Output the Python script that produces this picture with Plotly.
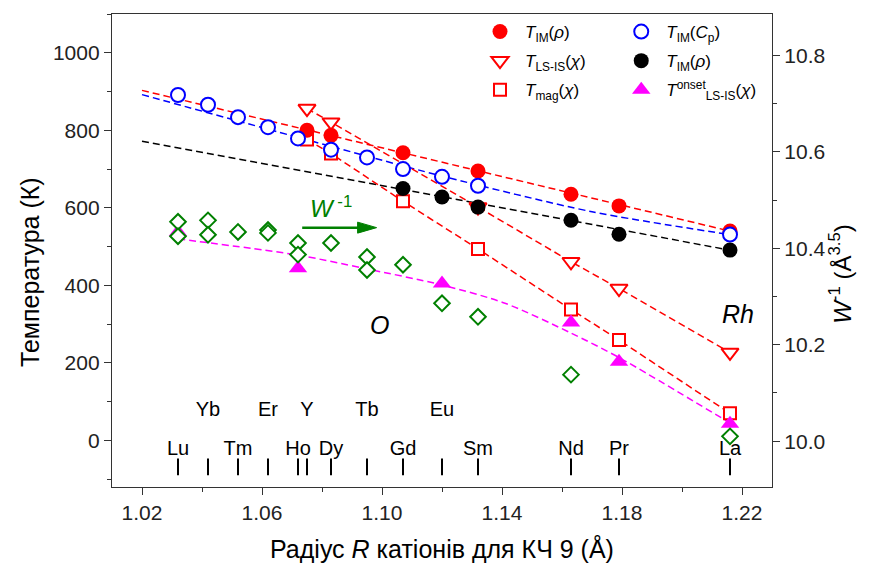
import plotly.graph_objects as go

# Ionic radii for coordination number 9 (Å)
elements = ["Lu", "Yb", "Tm", "Er", "Ho", "Y", "Dy", "Tb", "Gd", "Eu", "Sm", "Nd", "Pr", "La"]
radii = [1.032, 1.042, 1.052, 1.062, 1.072, 1.075, 1.083, 1.095, 1.107, 1.120, 1.132, 1.163, 1.179, 1.216]
rad = dict(zip(elements, radii))

# Element label rows
upper_row = ["Yb", "Er", "Y", "Tb", "Eu"]
lower_row = ["Lu", "Tm", "Ho", "Dy", "Gd", "Sm", "Nd", "Pr", "La"]

# T_IM(rho), red filled
tim_rho_el = ["Y", "Dy", "Gd", "Sm", "Nd", "Pr", "La"]
tim_rho = [800, 787, 742, 695, 635, 605, 540]

# T_IM(Cp), blue open
tim_cp_el = ["Lu", "Yb", "Tm", "Er", "Ho", "Dy", "Tb", "Gd", "Eu", "Sm", "La"]
tim_cp = [891, 866, 834, 808, 779, 750, 730, 700, 680, 657, 531]

# T_LS-IS(chi), red open down-triangles
tlsis_el = ["Y", "Dy", "Sm", "Nd", "Pr", "La"]
tlsis = [856, 821, 602, 461, 392, 227]

# T_IM(rho), black filled
tim_rho_b_el = ["Gd", "Eu", "Sm", "Nd", "Pr", "La"]
tim_rho_b = [650, 628, 602, 568, 532, 491]

# T_mag(chi), red open squares
tmag_el = ["Y", "Dy", "Gd", "Sm", "Nd", "Pr", "La"]
tmag = [776, 740, 617, 494, 338, 259, 70]

# T_onset LS-IS(chi), magenta up-triangles
tons_el = ["Lu", "Ho", "Eu", "Nd", "Pr", "La"]
tons = [538, 444, 405, 304, 203, 43]

# W^-1 (Å^3.5), green diamonds, right axis
winv_el = ["Lu", "Lu", "Yb", "Yb", "Tm", "Er", "Er", "Ho", "Ho", "Dy", "Tb", "Tb", "Gd", "Eu", "Sm", "Nd", "La"]
winv = [10.455, 10.425, 10.458, 10.428, 10.434, 10.438, 10.432, 10.411, 10.387,
        10.411, 10.382, 10.355, 10.366, 10.286, 10.258, 10.138, 10.010]

# Guide-line nodes
fit_red_r = [1.02, 1.216]
fit_red_t = [903, 540]
fit_blue_r = [1.02, 1.07, 1.12, 1.17, 1.216]
fit_blue_t = [892, 786, 682, 590, 531]
fit_black_r = [1.02, 1.216]
fit_black_t = [772, 491]
fit_mag_r = [1.032, 1.072, 1.094, 1.12, 1.141, 1.163, 1.179, 1.216]
fit_mag_t = [520, 478, 444, 401, 354, 277, 214, 45]

FONT = "Liberation Sans, Arial, sans-serif"
DASH = "7px,4px"
RED, BLUE, MAG, GREEN = "#ff0000", "#0000ff", "#ff00ff", "#008000"
AX = "#333333"


def xs(els):
    return [rad[e] for e in els]


fig = go.Figure()


def guide(x, y, color, shape="linear"):
    fig.add_trace(go.Scatter(x=x, y=y, mode="lines", showlegend=False, hoverinfo="skip",
                             line=dict(color=color, width=1.5, dash=DASH, shape=shape, smoothing=0.8)))


guide(fit_red_r, fit_red_t, RED)
guide(fit_blue_r, fit_blue_t, BLUE, "spline")
guide(fit_black_r, fit_black_t, "black")
guide(xs(tlsis_el), tlsis, RED)
guide(xs(tmag_el), tmag, RED)
guide(fit_mag_r, fit_mag_t, MAG, "spline")

# Element position markers and names
fig.add_trace(go.Scatter(x=radii, y=[-68] * len(radii), mode="markers", showlegend=False, hoverinfo="skip",
                         marker=dict(symbol="line-ns-open", size=12, color="black",
                                     line=dict(color="black", width=2))))
fig.add_trace(go.Scatter(x=xs(upper_row), y=[77] * len(upper_row), text=upper_row, mode="text",
                         showlegend=False, hoverinfo="skip",
                         textfont=dict(family=FONT, size=20, color="black")))
fig.add_trace(go.Scatter(x=xs(lower_row), y=[-24] * len(lower_row), text=lower_row, mode="text",
                         showlegend=False, hoverinfo="skip",
                         textfont=dict(family=FONT, size=20, color="black")))

# Data series
fig.add_trace(go.Scatter(x=xs(tmag_el), y=tmag, mode="markers", legend="legend", legendrank=3,
                         legendgroup="mag", name="<i>T</i><sub>mag</sub>(<i>χ</i>)",
                         marker=dict(symbol="square", size=12, color="white", line=dict(color=RED, width=2))))
fig.add_trace(go.Scatter(x=xs(tlsis_el), y=tlsis, mode="markers", legend="legend", legendrank=2,
                         legendgroup="lsis", name="<i>T</i><sub>LS-IS</sub>(<i>χ</i>)",
                         marker=dict(symbol="triangle-down", size=15, color="white", line=dict(color=RED, width=2))))
fig.add_trace(go.Scatter(x=xs(tons_el), y=tons, mode="markers", legend="legend2", legendrank=3,
                         legendgroup="ons", name="<i>T</i><sup>onset</sup><sub>LS-IS</sub>(<i>χ</i>)",
                         marker=dict(symbol="triangle-up", size=16, color=MAG, line=dict(width=0))))
fig.add_trace(go.Scatter(x=xs(tim_rho_el), y=tim_rho, mode="markers", legend="legend", legendrank=1,
                         legendgroup="rho", name="<i>T</i><sub>IM</sub>(<i>ρ</i>)",
                         marker=dict(symbol="circle", size=15, color=RED, line=dict(width=0))))
fig.add_trace(go.Scatter(x=xs(tim_cp_el), y=tim_cp, mode="markers", legend="legend2", legendrank=1,
                         legendgroup="cp", name="<i>T</i><sub>IM</sub>(<i>C</i><sub>p</sub>)",
                         marker=dict(symbol="circle", size=14, color="white", line=dict(color=BLUE, width=2))))
fig.add_trace(go.Scatter(x=xs(tim_rho_b_el), y=tim_rho_b, mode="markers", legend="legend2", legendrank=2,
                         legendgroup="rhob", name="<i>T</i><sub>IM</sub>(<i>ρ</i>)",
                         marker=dict(symbol="circle", size=15, color="black", line=dict(width=0))))
fig.add_trace(go.Scatter(x=xs(winv_el), y=winv, mode="markers", yaxis="y2", showlegend=False,
                         marker=dict(symbol="diamond", size=12, color="white", line=dict(color=GREEN, width=2))))

tickfont = dict(family=FONT, size=21, color="#222222")
axis_common = dict(showline=True, linecolor=AX, linewidth=1.3, ticks="outside", ticklen=7,
                   tickwidth=1.3, tickcolor=AX, showgrid=False, zeroline=False, tickfont=tickfont)

legend_common = dict(orientation="v", xanchor="left", yanchor="top", bgcolor="rgba(0,0,0,0)",
                     borderwidth=0, itemwidth=40, tracegroupgap=4,
                     font=dict(family=FONT, size=17, color="black"))

fig.update_layout(
    width=869, height=566,
    margin=dict(l=112, r=97, t=14, b=79),
    paper_bgcolor="white", plot_bgcolor="white",
    font=dict(family=FONT, color="black"),
    xaxis=dict(range=[1.01, 1.23], tick0=1.02, dtick=0.04, tickformat=".2f", mirror=True,
               minor=dict(ticks="outside", ticklen=4, dtick=0.02, tick0=1.02, tickcolor=AX, tickwidth=1.3),
               **axis_common),
    yaxis=dict(range=[-120, 1100], tick0=0, dtick=200,
               minor=dict(ticks="outside", ticklen=4, dtick=100, tick0=0, tickcolor=AX, tickwidth=1.3),
               **axis_common),
    yaxis2=dict(range=[9.905, 10.886], overlaying="y", side="right", tick0=10.0, dtick=0.2,
                tickformat=".1f",
                minor=dict(ticks="outside", ticklen=4, dtick=0.1, tick0=10.0, tickcolor=AX, tickwidth=1.3),
                **axis_common),
    legend=dict(x=0.55, y=1.0, **legend_common),
    legend2=dict(x=0.764, y=1.0, **legend_common),
    showlegend=True,
)

title_font = dict(family=FONT, size=25, color="black")
fig.add_annotation(text="Температура (К)", xref="paper", yref="paper", x=-0.124, y=0.455,
                   xanchor="center", yanchor="middle",
                   textangle=-90, showarrow=False, font=title_font)
fig.add_annotation(text="<i>W</i><sup>-1</sup> (Å<sup>3.5</sup>)", xref="paper", yref="paper",
                   x=1.104, y=0.45, xanchor="center", yanchor="middle",
                   textangle=-90, showarrow=False, font=dict(family=FONT, size=24, color="black"))
fig.add_annotation(text="Радіус <i>R</i> катіонів для КЧ 9 (Å)", xref="paper", yref="paper",
                   x=0.5, y=-0.13, xanchor="center", yanchor="middle", showarrow=False, font=title_font)

# Region labels
fig.add_annotation(text="<i>O</i>", x=1.099, y=298, showarrow=False,
                   font=dict(family=FONT, size=25, color="black"))
fig.add_annotation(text="<i>Rh</i>", x=1.2185, y=326, showarrow=False,
                   font=dict(family=FONT, size=25, color="black"))

# W^-1 direction arrow
fig.add_annotation(text="<i>W</i><sup> -1</sup>", x=1.083, y=602, showarrow=False,
                   font=dict(family=FONT, size=24, color=GREEN))
fig.add_shape(type="line", x0=1.0734, x1=1.0935, y0=549, y1=549, line=dict(color=GREEN, width=2.5))
fig.add_shape(type="path", xsizemode="pixel", ysizemode="pixel", xanchor=1.0982, yanchor=549,
              path="M -19,-5.5 L 0,0 L -19,5.5 Z", fillcolor=GREEN, line=dict(color=GREEN, width=1))

fig.write_html("out.html")
